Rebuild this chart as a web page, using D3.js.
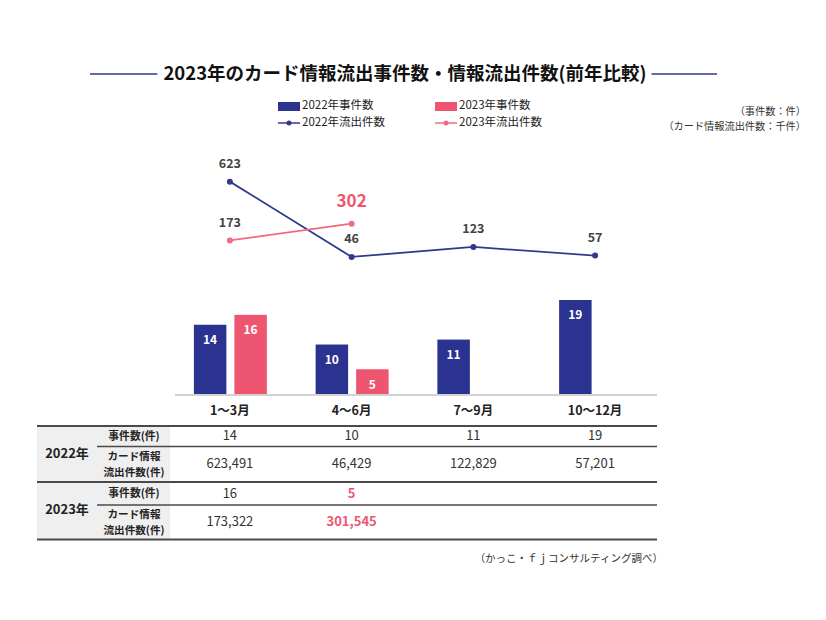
<!DOCTYPE html>
<html><head><meta charset="utf-8">
<script src="https://cdn.jsdelivr.net/npm/d3@7"></script>
<style>
body{margin:0;background:#fff;}
svg{display:block;font-family:"Noto Sans CJK JP","Noto Sans",sans-serif;}
</style></head>
<body><svg id="c" width="826" height="620"></svg>
<script>
const categories = ["1～3月","4～6月","7～9月","10～12月"];
const cases2022 = [14,10,11,19];
const cases2023 = [16,5];
const leak2022 = [623491,46429,122829,57201];
const leak2023 = [173322,301545];
const seriesNames = ["2022年事件数","2023年事件数","2022年流出件数","2023年流出件数"];
const rowLabels = ["事件数(件)",["カード情報","流出件数(件)"]];
const yearLabels = ["2022年","2023年"];

const BLUE="#2b3390", PINK="#ee5570", LBLUE="#2f3a8e", LPINK="#ef6a82";
const svg=d3.select("#c");

// title
const title=svg.append("text").attr("x",405).attr("y",75).attr("text-anchor","middle")
  .attr("dominant-baseline","middle").attr("font-size",18.5).attr("font-weight",700).attr("fill","#111")
  .text("2023年のカード情報流出事件数・情報流出件数(前年比較)");
const tb=title.node().getBBox();
svg.append("line").attr("x1",90).attr("x2",tb.x-6).attr("y1",74).attr("y2",74).attr("stroke",LBLUE).attr("stroke-width",1.5);
svg.append("line").attr("x1",tb.x+tb.width+5).attr("x2",717).attr("y1",74).attr("y2",74).attr("stroke",LBLUE).attr("stroke-width",1.5);

// legend
const leg=[{x:278,y:106,type:"rect",c:BLUE,t:seriesNames[0]},{x:435,y:106,type:"rect",c:PINK,t:seriesNames[1]},
 {x:278,y:123,type:"line",c:LBLUE,t:seriesNames[2]},{x:435,y:123,type:"line",c:LPINK,t:seriesNames[3]}];
leg.forEach(l=>{
  if(l.type==="rect") svg.append("rect").attr("x",l.x).attr("y",l.y-4).attr("width",22).attr("height",9).attr("fill",l.c);
  else{ svg.append("line").attr("x1",l.x).attr("x2",l.x+22).attr("y1",l.y).attr("y2",l.y).attr("stroke",l.c).attr("stroke-width",1.5);
        svg.append("circle").attr("cx",l.x+11).attr("cy",l.y).attr("r",2.5).attr("fill",l.c);}
  svg.append("text").attr("x",l.x+24).attr("y",l.y).attr("dominant-baseline","middle").attr("font-size",11.5).attr("fill","#222").text(l.t);
});
// unit note
svg.append("text").attr("x",806).attr("y",112).attr("text-anchor","end").attr("dominant-baseline","middle").attr("font-size",10.2).attr("fill","#333").text("（事件数：件）");
svg.append("text").attr("x",806).attr("y",127).attr("text-anchor","end").attr("dominant-baseline","middle").attr("font-size",10.2).attr("fill","#333").text("（カード情報流出件数：千件）");

// scales
const x=d3.scaleBand().domain(categories).range([169,656]);
const cx=c=>x(c)+x.bandwidth()/2;
const xs=d3.scaleBand().domain(["2022","2023"]).range([-36,37]).paddingInner(0.198);
const yb=d3.scaleLinear().domain([0,19]).range([394,300]);
const yl=d3.scaleLinear().domain([0,700]).range([263,171.65]);

// bars
const bars=[];
categories.forEach((c,i)=>{
  bars.push({c,s:"2022",v:cases2022[i]});
  if(cases2023[i]!==undefined) bars.push({c,s:"2023",v:cases2023[i]});
});
svg.selectAll(".bar").data(bars).join("rect")
  .attr("x",d=>cx(d.c)+xs(d.s)).attr("width",xs.bandwidth())
  .attr("y",d=>yb(d.v)).attr("height",d=>yb(0)-yb(d.v))
  .attr("fill",d=>d.s==="2022"?BLUE:PINK);
svg.selectAll(".blab").data(bars).join("text")
  .attr("x",d=>cx(d.c)+xs(d.s)+xs.bandwidth()/2).attr("y",d=>yb(d.v)+16)
  .attr("text-anchor","middle").attr("dominant-baseline","middle")
  .attr("font-size",12).attr("font-weight",700).attr("fill","#fff").text(d=>d.v);
svg.append("line").attr("x1",175).attr("x2",657).attr("y1",395).attr("y2",395).attr("stroke","#d2d2d2").attr("stroke-width",2);
// category labels
svg.selectAll(".cat").data(categories).join("text").attr("x",d=>cx(d)).attr("y",412)
  .attr("text-anchor","middle").attr("dominant-baseline","middle").attr("font-size",12.5).attr("font-weight",700).attr("fill","#222").text(d=>d);

// lines
const l22=leak2022.map((v,i)=>({c:categories[i],v}));
const l23=leak2023.map((v,i)=>({c:categories[i],v}));
const line=d3.line().x(d=>cx(d.c)).y(d=>yl(d.v/1000));
[[l22,LBLUE],[l23,LPINK]].forEach(([data,col],k)=>{
  svg.append("path").datum(data).attr("d",line).attr("fill","none").attr("stroke",col).attr("stroke-width",1.8);
  svg.selectAll(".pt"+k).data(data).join("circle").attr("cx",d=>cx(d.c)).attr("cy",d=>yl(d.v/1000)).attr("r",3).attr("fill",col);
});
svg.selectAll(".ll22").data(l22).join("text").attr("x",d=>cx(d.c)).attr("y",d=>yl(d.v/1000)-17)
  .attr("text-anchor","middle").attr("dominant-baseline","middle").attr("font-size",12.5).attr("font-weight",700).attr("fill","#444")
  .text(d=>Math.round(d.v/1000));
svg.selectAll(".ll23").data(l23).join("text").attr("x",d=>cx(d.c)).attr("y",(d,i)=>yl(d.v/1000)-(i===1?21:17))
  .attr("text-anchor","middle").attr("dominant-baseline","middle")
  .attr("font-size",(d,i)=>i===1?17:12.5).attr("font-weight",700).attr("fill",(d,i)=>i===1?PINK:"#444")
  .text(d=>Math.round(d.v/1000));

// table
const fmt=d3.format(",");
svg.append("rect").attr("x",37).attr("y",426).attr("width",133).attr("height",113).attr("fill","#efefef");
const hl=(x1,y,w)=>svg.append("line").attr("x1",x1).attr("x2",657).attr("y1",y).attr("y2",y).attr("stroke","#4a4a4a").attr("stroke-width",w);
hl(37,426,2); hl(97,446.5,1.5); hl(37,482,2); hl(97,505,1.5); hl(37,539.5,2);
const blocks=[{y0:426,y1:482,mid:446.5,year:yearLabels[0],cases:cases2022,leak:leak2022},
              {y0:482,y1:539.5,mid:505,year:yearLabels[1],cases:cases2023,leak:leak2023}];
blocks.forEach((b,bi)=>{
  svg.append("text").attr("x",67).attr("y",(b.y0+b.y1)/2).attr("text-anchor","middle").attr("dominant-baseline","middle")
    .attr("font-size",13).attr("font-weight",700).attr("fill","#222").text(b.year);
  const r1=(b.y0+b.mid)/2+0.5, r2=(b.mid+b.y1)/2+0.5;
  svg.append("text").attr("x",134).attr("y",r1).attr("text-anchor","middle").attr("dominant-baseline","middle")
    .attr("font-size",10.8).attr("font-weight",700).attr("fill","#222").text(rowLabels[0]);
  rowLabels[1].forEach((t,j)=>svg.append("text").attr("x",134).attr("y",r2-7.9+15.8*j).attr("text-anchor","middle").attr("dominant-baseline","middle")
    .attr("font-size",10.6).attr("font-weight",700).attr("fill","#222").text(t));
  b.cases.forEach((v,i)=>svg.append("text").attr("x",cx(categories[i])).attr("y",r1).attr("text-anchor","middle").attr("dominant-baseline","middle")
    .attr("font-size",13).attr("font-weight",bi===1&&i===1?700:400).attr("fill",bi===1&&i===1?PINK:"#333").text(v));
  b.leak.forEach((v,i)=>svg.append("text").attr("x",cx(categories[i])).attr("y",r2).attr("text-anchor","middle").attr("dominant-baseline","middle")
    .attr("font-size",13).attr("font-weight",bi===1&&i===1?700:400).attr("fill",bi===1&&i===1?PINK:"#333").text(fmt(v)));
});
// footer
svg.append("text").attr("x",663).attr("y",559).attr("text-anchor","end").attr("dominant-baseline","middle").attr("font-size",10.5).attr("fill","#333").text("（かっこ・ｆｊコンサルティング調べ）");
</script></body></html>
